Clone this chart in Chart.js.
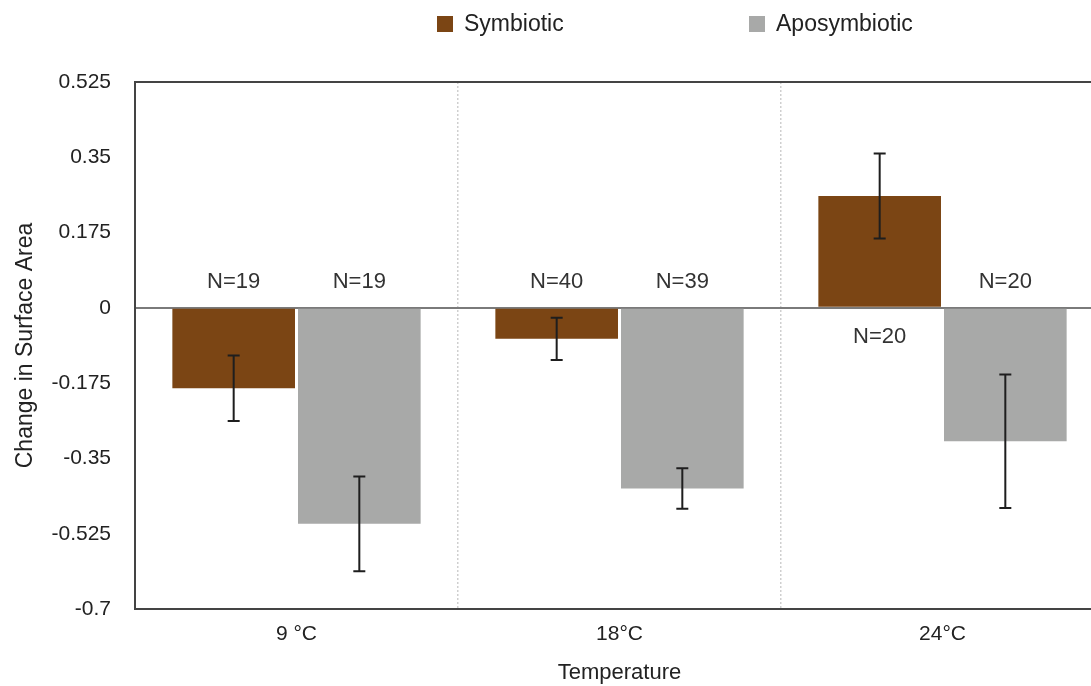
<!DOCTYPE html>
<html>
<head>
<meta charset="utf-8">
<script src="https://cdn.jsdelivr.net/npm/chart.js@4.4.1/dist/chart.umd.min.js"></script>
<style>
  html, body { margin: 0; padding: 0; background: #fff; overflow: hidden; }
</style>
</head>
<body>
<canvas id="chart" width="1104" height="686"></canvas>
<script>
// data
const temps = ['9 °C', '18°C', '24°C'];
const symbiotic = [-0.187, -0.072, 0.260];
const aposymbiotic = [-0.502, -0.420, -0.310];
const symbioticSE = [0.076, 0.049, 0.099];
const aposymbioticSE = [0.110, 0.047, 0.155];
const symbioticN = [19, 40, 20];
const aposymbioticN = [19, 39, 20];
const yTicks = [-0.7, -0.525, -0.35, -0.175, 0, 0.175, 0.35, 0.525];

const FONT = "'Liberation Sans', Arial, Helvetica, sans-serif";
const TEXT = '#222';

// error bars (mean +/- SE)
const errorBars = {
    id: 'errorBars',
    afterDatasetsDraw(chart) {
        const ctx = chart.ctx;
        const y = chart.scales.y;
        ctx.save();
        ctx.strokeStyle = '#1e1e1e';
        ctx.lineWidth = 2;
        chart.data.datasets.forEach((ds, i) => {
            chart.getDatasetMeta(i).data.forEach((bar, j) => {
                const v = ds.data[j], se = ds.se[j];
                const top = y.getPixelForValue(v + se);
                const bot = y.getPixelForValue(v - se);
                ctx.beginPath();
                ctx.moveTo(bar.x, top); ctx.lineTo(bar.x, bot);
                ctx.moveTo(bar.x - 6, top); ctx.lineTo(bar.x + 6, top);
                ctx.moveTo(bar.x - 6, bot); ctx.lineTo(bar.x + 6, bot);
                ctx.stroke();
            });
        });
        ctx.restore();
    }
};

// sample sizes next to the zero line
const sampleLabels = {
    id: 'sampleLabels',
    afterDatasetsDraw(chart) {
        const ctx = chart.ctx;
        const y0 = chart.scales.y.getPixelForValue(0);
        ctx.save();
        ctx.font = '22px ' + FONT;
        ctx.fillStyle = '#333';
        ctx.textAlign = 'center';
        ctx.textBaseline = 'middle';
        chart.data.datasets.forEach((ds, i) => {
            chart.getDatasetMeta(i).data.forEach((bar, j) => {
                const yy = ds.data[j] < 0 ? y0 - 26 : y0 + 29;
                ctx.fillText('N=' + ds.n[j], bar.x, yy);
            });
        });
        ctx.restore();
    }
};

// legend sits off-centre in the original, so draw it by hand
const topLegend = {
    id: 'topLegend',
    afterDraw(chart) {
        const ctx = chart.ctx;
        const xs = [437, 749];
        ctx.save();
        ctx.font = '23px ' + FONT;
        ctx.textBaseline = 'middle';
        ctx.textAlign = 'left';
        chart.data.datasets.forEach((ds, i) => {
            ctx.fillStyle = ds.backgroundColor;
            ctx.fillRect(xs[i], 16, 16, 16);
            ctx.fillStyle = TEXT;
            ctx.fillText(ds.label, xs[i] + 27, 25);
        });
        ctx.restore();
    }
};

new Chart(document.getElementById('chart'), {
    type: 'bar',
    data: {
        labels: temps,
        datasets: [
            { label: 'Symbiotic', data: symbiotic, se: symbioticSE, n: symbioticN,
              backgroundColor: '#7b4514', borderWidth: 0 },
            { label: 'Aposymbiotic', data: aposymbiotic, se: aposymbioticSE, n: aposymbioticN,
              backgroundColor: '#a8a9a8', borderWidth: 0 }
        ]
    },
    options: {
        responsive: false,
        animation: false,
        categoryPercentage: 0.778,
        barPercentage: 0.976,
        layout: { padding: { top: 82, left: 0, right: 0, bottom: 0 } },
        plugins: { legend: { display: false }, tooltip: { enabled: false } },
        scales: {
            x: {
                offset: true,
                grid: {
                    offset: true,
                    drawTicks: false,
                    lineWidth: 1.5,
                    color: c => c.index === 0 ? 'rgba(0,0,0,0)' : '#cfcfcf'
                },
                border: { display: true, color: '#444', width: 2, dash: [2, 2] },
                ticks: { color: TEXT, font: { family: FONT, size: 21 }, padding: 13 },
                title: { display: true, text: 'Temperature', color: TEXT,
                         font: { family: FONT, size: 22 }, padding: { top: 0, bottom: 0 } },
                afterFit: s => { s.height = 77; }
            },
            y: {
                min: -0.7,
                max: 0.525,
                afterBuildTicks: s => { s.ticks = yTicks.map(v => ({ value: v })); },
                grid: {
                    drawTicks: false,
                    color: c => {
                        if (!c.tick) return 'rgba(0,0,0,0)';
                        if (c.tick.value === 0) return '#7a7a7a';
                        if (c.tick.value === 0.525) return '#444';
                        return 'rgba(0,0,0,0)';
                    },
                    lineWidth: 2
                },
                border: { display: true, color: '#444', width: 2 },
                ticks: { color: TEXT, font: { family: FONT, size: 21 }, padding: 24,
                         callback: v => String(v) },
                title: { display: true, text: 'Change in Surface Area', color: TEXT,
                         font: { family: FONT, size: 23 }, padding: { top: 12, bottom: 0 } },
                afterFit: s => { s.width = 135; }
            }
        }
    },
    plugins: [errorBars, sampleLabels, topLegend]
});
</script>
</body>
</html>
